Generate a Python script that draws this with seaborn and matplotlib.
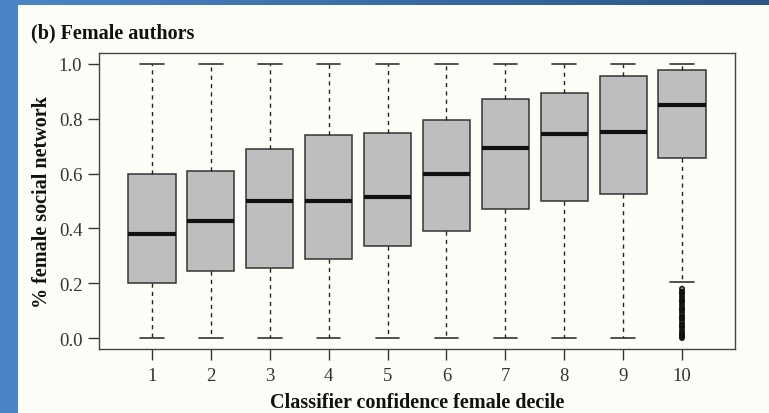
import numpy as np
import pandas as pd
import matplotlib
matplotlib.use("Agg")
import matplotlib.pyplot as plt
from matplotlib.colors import LinearSegmentedColormap
from matplotlib.patches import Rectangle
import seaborn as sns

# ---- data ----
deciles = ["1", "2", "3", "4", "5", "6", "7", "8", "9", "10"]
whisker_lo = [0.0, 0.0, 0.0, 0.0, 0.0, 0.0, 0.0, 0.0, 0.0, 0.206]
q1 = [0.200, 0.245, 0.256, 0.287, 0.336, 0.391, 0.472, 0.500, 0.525, 0.656]
medians = [0.380, 0.427, 0.500, 0.500, 0.516, 0.600, 0.695, 0.745, 0.751, 0.851]
q3 = [0.598, 0.609, 0.690, 0.742, 0.747, 0.797, 0.873, 0.895, 0.956, 0.979]
whisker_hi = [1.0, 1.0, 1.0, 1.0, 1.0, 1.0, 1.0, 1.0, 1.0, 1.0]
outliers_10 = [0.000, 0.005, 0.010, 0.015, 0.020, 0.030, 0.040, 0.045, 0.050,
               0.060, 0.070, 0.075, 0.080, 0.090, 0.100, 0.105, 0.110, 0.120,
               0.130, 0.135, 0.140, 0.150, 0.160, 0.165, 0.170, 0.180]
yticks = [0.0, 0.2, 0.4, 0.6, 0.8, 1.0]

title = "(b) Female authors"
xlabel = "Classifier confidence female decile"
ylabel = "% female social network"

rows = []
for d, lo, a, m, b, hi in zip(deciles, whisker_lo, q1, medians, q3, whisker_hi):
    for v in (lo, a, m, b, hi):
        rows.append({"decile": d, "value": v})
df = pd.DataFrame(rows)
df_out = pd.DataFrame({"decile": ["10"] * len(outliers_10), "value": outliers_10})

sns.set_style("ticks")
plt.rcParams["font.family"] = ["Liberation Serif", "DejaVu Serif"]

W, H = 769, 414
fig = plt.figure(figsize=(W / 100, H / 100), dpi=100)

# background: blue frame + off-white panel
bg = fig.add_axes([0, 0, 1, 1], zorder=-10)
bg.axis("off")
cmap = LinearSegmentedColormap.from_list("bluegrad", ["#4d86c5", "#3a6ca8", "#2c5586"])
bg.imshow(np.linspace(0, 1, 256)[None, :], cmap=cmap, aspect="auto",
          extent=[0, 1, 0, 1], interpolation="bilinear")
bg.add_patch(Rectangle((0, 0), 18 / W, 1, facecolor="#4b84c4", edgecolor="none"))
bg.add_patch(Rectangle((18 / W, 0), 1 - 18 / W, 1 - 6 / H,
                       facecolor="#fdfdf8", edgecolor="none"))
bg.set_xlim(0, 1)
bg.set_ylim(0, 1)

ax = fig.add_axes([99 / W, 1 - 350 / H, (735 - 99) / W, (350 - 54) / H])
ax.set_facecolor("none")

sns.boxplot(data=df, x="decile", y="value", order=deciles, ax=ax,
            color="#bebebe", saturation=1, width=0.8, whis=1.5,
            showfliers=False, linecolor="#333333", linewidth=1.1,
            medianprops=dict(color="#111111", linewidth=3),
            whiskerprops=dict(color="#222222", linewidth=1.0, linestyle=(0, (3, 3))),
            capprops=dict(color="#333333", linewidth=1.2))

sns.stripplot(data=df_out, x="decile", y="value", order=deciles, ax=ax,
              jitter=False, color="black", size=3.0, marker="o",
              linewidth=1.2, edgecolor="#111111")
ax.collections[-1].set_facecolor("none")

ax.set_xlim(-0.9, 9.9)
ax.set_ylim(-0.04, 1.04)
ax.set_yticks(yticks)
ax.set_yticklabels([f"{t:.1f}" for t in yticks])
ax.set_xlabel("")
ax.set_ylabel("")
ax.tick_params(direction="out", length=8, width=1, colors="#333333",
               labelsize=13.5, pad=4)
ax.tick_params(axis="x", pad=5)
for s in ax.spines.values():
    s.set_visible(True)
    s.set_color("#444444")
    s.set_linewidth(1)

fig.text(31 / W, 1 - 33 / H, title, fontsize=14.5, fontweight="bold",
         ha="left", va="center", color="#111111")
fig.text(417 / W, 1 - 403 / H, xlabel, fontsize=14.5, fontweight="bold",
         ha="center", va="center", color="#111111")
fig.text(42 / W, 1 - 202 / H, ylabel, fontsize=14.5, fontweight="bold",
         ha="center", va="center", rotation=90, color="#111111")

fig.savefig("out.png", dpi=100)
